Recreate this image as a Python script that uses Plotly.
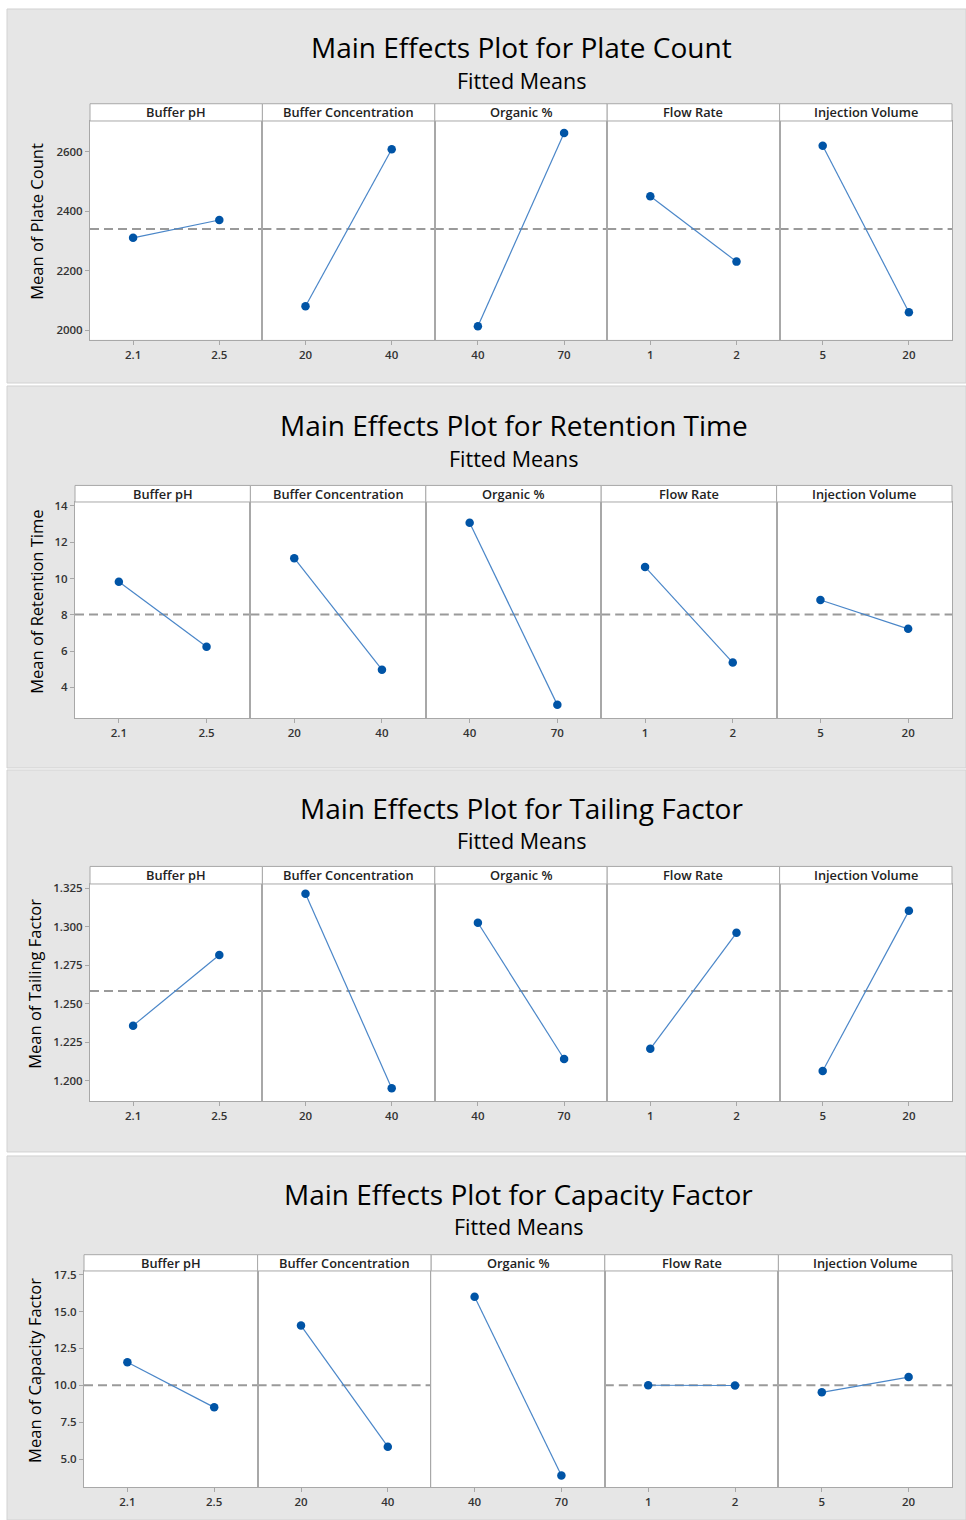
import plotly.graph_objects as go

W, H = 966, 1520

# ---------------- data ----------------
factors = ["Buffer pH", "Buffer Concentration", "Organic %", "Flow Rate", "Injection Volume"]
levels_ph = ["2.1", "2.5"]
levels_conc = ["20", "40"]
levels_org = ["40", "70"]
levels_flow = ["1", "2"]
levels_inj = ["5", "20"]
levels = [levels_ph, levels_conc, levels_org, levels_flow, levels_inj]

responses = ["Plate Count", "Retention Time", "Tailing Factor", "Capacity Factor"]

plate_count = [[2310, 2370], [2080, 2608], [2013, 2663], [2450, 2230], [2620, 2060]]
retention_time = [[9.82, 6.24], [11.12, 4.98], [13.08, 3.04], [10.64, 5.37], [8.82, 7.23]]
tailing_factor = [[1.2357, 1.2817], [1.3216, 1.1950], [1.3027, 1.2140], [1.2206, 1.2961], [1.2062, 1.3104]]
capacity_factor = [[11.57, 8.51], [14.05, 5.85], [16.00, 3.90], [10.01, 9.99], [9.53, 10.56]]
all_data = [plate_count, retention_time, tailing_factor, capacity_factor]

overall_means = [2340, 8.02, 1.2582, 10.0]

yticks_pc = [2000, 2200, 2400, 2600]
yticks_rt = [4, 6, 8, 10, 12, 14]
yticks_tf = [1.200, 1.225, 1.250, 1.275, 1.300, 1.325]
yticks_cf = [5.0, 7.5, 10.0, 12.5, 15.0, 17.5]
yticks = [yticks_pc, yticks_rt, yticks_tf, yticks_cf]
ytick_formats = ["d", "d", ".3f", ".1f"]

yranges = [[1967, 2703], [2.31, 14.22], [1.1866, 1.3279], [3.11, 17.75]]

# ---------------- geometry (pixels) ----------------
geom = [
    dict(bg=(5, 380), left=90, right=952, top=117.3, bottom=336.7, htop=100.0, ty=43, sty=77, ylx=37),
    dict(bg=(383, 766), left=75, right=952, top=499.3, bottom=716, htop=482.7, ty=422, sty=456, ylx=37),
    dict(bg=(768, 1151), left=90, right=952, top=882.3, bottom=1100, htop=864.7, ty=806, sty=839, ylx=35),
    dict(bg=(1155, 1520), left=84, right=952, top=1270.3, bottom=1487, htop=1254, ty=1193, sty=1226, ylx=35),
]

FONT = "Open Sans"
BORDER = "#a8a8a8"
MARKER = "#0054a6"
LINE = "#4a86c8"


def fx(x):
    return x / W


def fy(y):
    return 1 - y / H


fig = go.Figure()
shapes = []
annotations = []
layout = dict(
    width=W, height=H,
    margin=dict(l=0, r=0, t=0, b=0, pad=0),
    paper_bgcolor="white", plot_bgcolor="white",
    showlegend=False,
    font=dict(family=FONT, color="#222222"),
)

k = 0
for p in range(4):
    g = geom[p]
    shapes.append(dict(type="rect", xref="paper", yref="paper",
                       x0=fx(7), x1=fx(966), y0=fy(g["bg"][1]), y1=fy(g["bg"][0]),
                       fillcolor="#e6e6e6", line=dict(color="#d2d2d2", width=1), layer="below"))
    shapes.append(dict(type="rect", xref="paper", yref="paper",
                       x0=fx(g["left"]), x1=fx(g["right"]), y0=fy(g["bottom"]), y1=fy(g["top"]),
                       fillcolor="white", line=dict(width=0), layer="below"))
    fw = (g["right"] - g["left"]) / 5
    plot_h = g["bottom"] - g["top"]
    head_h = g["top"] - g["htop"]
    for j in range(5):
        k += 1
        xname = "x" if k == 1 else f"x{k}"
        yname = "y" if k == 1 else f"y{k}"
        x0 = g["left"] + j * fw
        x1 = x0 + fw
        first = (j == 0)
        layout["xaxis" if k == 1 else f"xaxis{k}"] = dict(
            domain=[fx(x0), fx(x1)], anchor=yname, type="category",
            range=[-0.5, 1.5], showgrid=False, zeroline=False,
            showline=True, mirror=True, linecolor=BORDER, linewidth=1,
            ticks="outside", ticklen=4, tickcolor=BORDER,
            tickfont=dict(family=FONT, size=11.5, color="#333333", weight=600),
            fixedrange=True,
        )
        layout["yaxis" if k == 1 else f"yaxis{k}"] = dict(
            domain=[fy(g["bottom"]), fy(g["top"])], anchor=xname,
            range=yranges[p], showgrid=False, zeroline=False,
            showline=True, mirror=True, linecolor=BORDER, linewidth=1,
            tickvals=yticks[p] if first else [], tickformat=ytick_formats[p],
            ticks="outside" if first else "", ticklen=4, tickcolor=BORDER,
            showticklabels=first,
            tickfont=dict(family=FONT, size=11.5, color="#333333", weight=600),
            fixedrange=True,
        )
        # mean reference line
        shapes.append(dict(type="line", xref=f"{xname} domain", yref=yname,
                           x0=0, x1=1, y0=overall_means[p], y1=overall_means[p],
                           line=dict(color="#9a9a9a", width=2, dash="9px,5px"), layer="below"))
        # header strip
        shapes.append(dict(type="rect", xref=f"{xname} domain", yref=f"{yname} domain",
                           x0=0, x1=1, y0=1, y1=1 + head_h / plot_h,
                           fillcolor="white", line=dict(color=BORDER, width=1), layer="above"))
        annotations.append(dict(xref=f"{xname} domain", yref=f"{yname} domain",
                                x=0.5, y=1 + (head_h / 2) / plot_h, text=factors[j],
                                showarrow=False, xanchor="center", yanchor="middle",
                                font=dict(family=FONT, size=12.8, color="#222222", weight=600)))
        fig.add_trace(go.Scatter(
            x=levels[j], y=all_data[p][j], xaxis=xname, yaxis=yname,
            mode="lines+markers",
            line=dict(color=LINE, width=1.2),
            marker=dict(color=MARKER, size=8.5),
            hoverinfo="x+y",
        ))
    cx = (g["left"] + g["right"]) / 2
    annotations.append(dict(xref="paper", yref="paper", x=fx(cx), y=fy(g["ty"]),
                            text=f"Main Effects Plot for {responses[p]}", showarrow=False,
                            xanchor="center", yanchor="middle",
                            font=dict(family=FONT, size=28, color="#000000")))
    annotations.append(dict(xref="paper", yref="paper", x=fx(cx), y=fy(g["sty"]),
                            text="Fitted Means", showarrow=False,
                            xanchor="center", yanchor="middle",
                            font=dict(family=FONT, size=21.5, color="#000000")))
    annotations.append(dict(xref="paper", yref="paper", x=fx(g["ylx"]),
                            y=fy((g["htop"] + g["bottom"]) / 2),
                            text=f"Mean of {responses[p]}", showarrow=False, textangle=-90,
                            xanchor="center", yanchor="middle",
                            font=dict(family=FONT, size=16.5, color="#000000")))

layout["shapes"] = shapes
layout["annotations"] = annotations
fig.update_layout(**layout)
fig.write_html("out.html")
